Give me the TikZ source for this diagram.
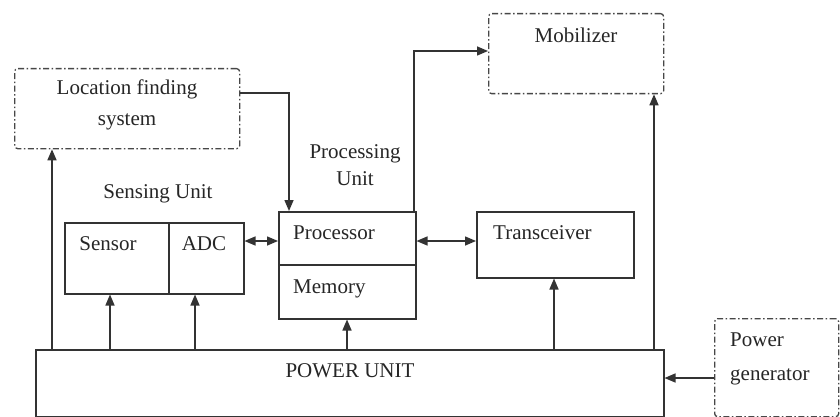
\documentclass[tikz,border=0pt]{standalone}
\usepackage{fontspec}
\setmainfont{Liberation Serif}
\newfontfamily\diagfont{Liberation Serif}
\usetikzlibrary{arrows.meta}
\begin{document}
\begin{tikzpicture}[x=1pt,y=-1pt,
  ln/.style={draw=black!80, line width=1.5pt},
  box/.style={ln, rectangle, inner sep=0pt, anchor=north west},
  dbox/.style={draw=black!72, line width=1.3pt, dash pattern=on 6pt off 2.5pt on 1.5pt off 2.5pt, rounded corners=3pt, rectangle, inner sep=0pt, anchor=north west},
  arr/.style={ln, -{Triangle[length=11pt,width=9pt]}},
  darr/.style={ln, {Triangle[length=11pt,width=9pt]}-{Triangle[length=11pt,width=9pt]}},
  txt/.style={font=\diagfont\fontsize{21}{25}\selectfont, text=black!85, inner sep=0pt}
]
\useasboundingbox[fill=white] (0,0) rectangle (840,417);
% boxes
\node[dbox, minimum width=225pt, minimum height=80pt] (loc) at (14,68) {};
\node[dbox, minimum width=175pt, minimum height=80pt] (mob) at (488,13) {};
\node[dbox, minimum width=124pt, minimum height=98pt] (gen) at (714,318) {};
\node[box, minimum width=104pt, minimum height=71pt] (sensor) at (64,222) {};
\node[box, minimum width=75pt, minimum height=71pt] (adc) at (168,222) {};
\node[box, minimum width=137pt, minimum height=53pt] (proc) at (278,211) {};
\node[box, minimum width=137pt, minimum height=54pt] (mem) at (278,264) {};
\node[box, minimum width=157pt, minimum height=66pt] (trx) at (476,211) {};
\node[box, minimum width=628pt, minimum height=67pt] (power) at (35,349) {};
% texts
\node[txt, anchor=base] (tloc1) at (127,95) {Location finding};
\node[txt, anchor=base] (tloc2) at (127,125) {system};
\node[txt, anchor=base] (tmob) at (576,43) {Mobilizer};
\node[txt, anchor=base] (tsen) at (108,250) {Sensor};
\node[txt, anchor=base] (tadc) at (204,250) {ADC};
\node[txt, anchor=base west] (tproc) at (293,239) {Processor};
\node[txt, anchor=base west] (tmem) at (293,293) {Memory};
\node[txt, anchor=base west] (ttrx) at (493,239) {Transceiver};
\node[txt, anchor=base] (tpow) at (350,377) {POWER UNIT};
\node[txt, anchor=base west] (tgen1) at (730,346) {Power};
\node[txt, anchor=base west] (tgen2) at (730,380) {generator};
\node[txt, anchor=base] (tpu1) at (355,158) {Processing};
\node[txt, anchor=base] (tpu2) at (355,185) {Unit};
\node[txt, anchor=base] (tsu) at (158,198) {Sensing Unit};
% helper coordinates
\coordinate (x1) at (52,0);
\coordinate (x2) at (110,0);
\coordinate (x3) at (195,0);
\coordinate (x4) at (347,0);
\coordinate (x5) at (554,0);
\coordinate (x6) at (654,0);
\coordinate (x7) at (289,0);
\coordinate (x8) at (414,0);
\coordinate (y1) at (0,378);
\coordinate (y2) at (0,241);
\coordinate (y3) at (0,93);
\coordinate (y4) at (0,51);
% connectors
\draw[arr] (power.north -| x1) -- (loc.south -| x1);
\draw[arr] (power.north -| x2) -- (sensor.south -| x2);
\draw[arr] (power.north -| x3) -- (adc.south -| x3);
\draw[arr] (power.north -| x4) -- (mem.south -| x4);
\draw[arr] (power.north -| x5) -- (trx.south -| x5);
\draw[arr] (power.north -| x6) -- (mob.south -| x6);
\draw[arr] (gen.west |- y1) -- (power.east |- y1);
\draw[darr] (adc.east |- y2) -- (proc.west |- y2);
\draw[darr] (proc.east |- y2) -- (trx.west |- y2);
\draw[arr] (loc.east |- y3) -| (proc.north -| x7);
\draw[arr] (proc.north -| x8) |- (mob.west |- y4);
\end{tikzpicture}
\end{document}
